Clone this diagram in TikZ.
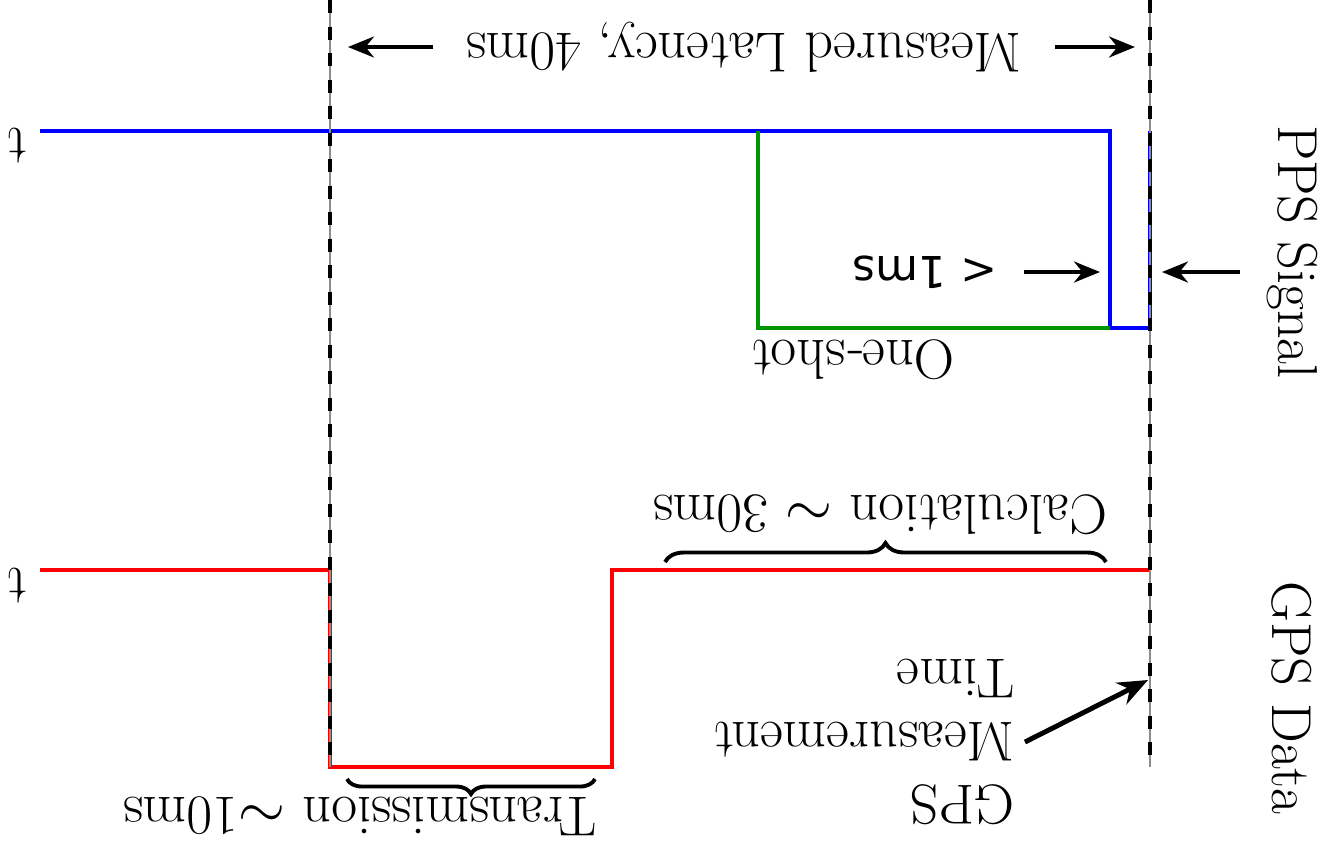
\documentclass[tikz,border=0pt]{standalone}
\usepackage{fontspec}
\newfontfamily\dejavu{DejaVu Sans}
\usetikzlibrary{arrows.meta,decorations.pathreplacing}

\definecolor{shotgreen}{RGB}{0,150,0}

\begin{document}
\begin{tikzpicture}[
	x=0.01cm, y=-0.01cm,
	lbl/.style={font=\fontsize{16}{18}\selectfont, inner sep=0pt},
	flipped/.style={lbl, rotate=180},
	ppsline/.style={blue, line width=1.1pt},
	gpsline/.style={red, line width=1.1pt},
	shotline/.style={shotgreen, line width=1.1pt},
	markerbase/.style={black!45, line width=0.5pt},
	marker/.style={black, line width=1.2pt, dash pattern=on 0.13cm off 0.135cm},
	dimarrow/.style={-{Stealth[length=2.6mm,width=2.1mm]}, line width=1pt},
	ptrarrow/.style={-{Stealth[length=3mm,width=2.4mm]}, line width=1.4pt},
	bracedeco/.style={decorate, decoration={brace, amplitude=#1}, line width=1.1pt},
]

\useasboundingbox (0,0) rectangle (1320,856);

\pgfmathsetmacro{\tA}{330}   % GPS measurement
\pgfmathsetmacro{\tB}{1150}  % PPS edge
\pgfmathsetmacro{\tS}{758}   % one-shot fires
\pgfmathsetmacro{\tE}{1110}  % one-shot ends
\pgfmathsetmacro{\tR}{612}   % transmission done
\pgfmathsetmacro{\yP}{131}   % PPS high
\pgfmathsetmacro{\yPl}{328}  % PPS low
\pgfmathsetmacro{\yG}{570}   % GPS high
\pgfmathsetmacro{\yGl}{767}  % GPS low

% signals
\draw[ppsline] (40,\yP) -- (\tE,\yP) -- (\tE,\yPl) -- (\tB,\yPl) -- (\tB,\yP);
\draw[shotline] (\tS,\yP) -- (\tS,\yPl) -- (\tE,\yPl);
\draw[gpsline] (40,\yG) -- (\tA,\yG) -- (\tA,\yGl) -- (\tR,\yGl) -- (\tR,\yG) -- (\tB,\yG);

% time markers
\foreach \x in {\tA,\tB} {
	\draw[markerbase] (\x,0) -- (\x,\yGl);
	\draw[marker] (\x,0) -- (\x,\yGl);
}

% axis labels
\node[flipped] (tpps) at (17,146) {t};
\node[flipped] (tgps) at (17,586) {t};
\node[lbl, rotate=-90] (ppslbl) at (1292,252) {PPS Signal};
\node[lbl, rotate=-90] (gpslbl) at (1292,698) {GPS Data};

% measured latency
\node[flipped, outer xsep=0.33cm] (latency) at (744,47) {Measured Latency, 40ms};
\coordinate (latL) at (348,47);
\coordinate (latR) at (1135,47);
\draw[dimarrow] (latency) -- (latL);
\draw[dimarrow] (latency) -- (latR);

% one-shot width
\node[flipped, font=\dejavu\fontsize{12.5}{15}\selectfont, outer xsep=0.27cm] (lessms) at (925,272) {< 1ms};
\coordinate (edgeL) at (1100,272);
\coordinate (edgeT) at (1240,272);
\coordinate (edgeR) at (1162,272);
\draw[dimarrow] (lessms) -- (edgeL);
\draw[dimarrow] (edgeT) -- (edgeR);

\node[flipped] (oneshot) at (853,360) {One-shot};

% phases of the GPS data
\draw[bracedeco=0.19cm] (665,562) -- (1106,562);
\node[flipped] (calc) at (880,515) {Calculation $\sim$ 30ms};
\draw[bracedeco=0.15cm] (595,779) -- (347,779);
\node[flipped] (trans) at (360,816) {Transmission $\sim$10ms};

% measurement time pointer
\node[flipped, align=left, anchor=west, outer xsep=0.1cm] (gpstime) at (1025,742) {GPS\\Measurement\\Time};
\coordinate (gpsmark) at (1148,680);
\draw[ptrarrow] (gpstime.west) -- (gpsmark);

\end{tikzpicture}
\end{document}
